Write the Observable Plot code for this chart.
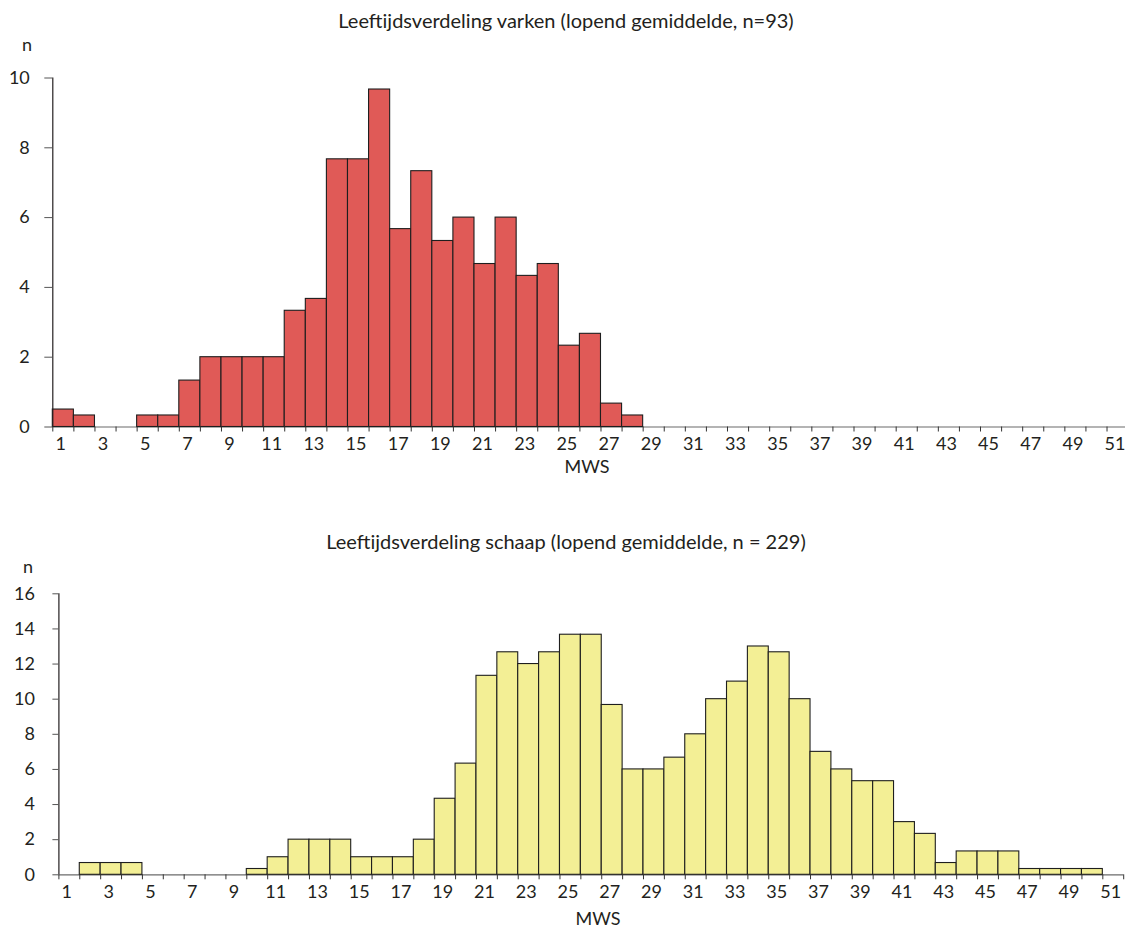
<!DOCTYPE html>
<html>
<head>
<meta charset="utf-8">
<script src="https://cdn.jsdelivr.net/npm/d3@7"></script>
<script src="https://cdn.jsdelivr.net/npm/@observablehq/plot@0.6"></script>
<style>
  html, body { margin: 0; padding: 0; background: #fff; }
  #page { position: relative; width: 1125px; height: 929px; overflow: hidden; font-family: Lato, "Open Sans", sans-serif; color: #231f20; }
  .lbl { position: absolute; transform: translate(-50%, -50%); white-space: nowrap; font-size: 18px; line-height: 1; }
  .title { font-size: 20px; }
  .chart { position: absolute; left: 0; }
</style>
</head>
<body>
<div id="page">
  <div class="lbl title" style="left:566px;top:20px">Leeftijdsverdeling varken (lopend gemiddelde, n=93)</div>
  <div class="lbl" style="left:27px;top:44px">n</div>
  <div class="chart" id="c1" style="top:0px"></div>
  <div class="lbl" style="left:587px;top:466px">MWS</div>

  <div class="lbl title" style="left:566px;top:541px">Leeftijdsverdeling schaap (lopend gemiddelde, n = 229)</div>
  <div class="lbl" style="left:28px;top:566px">n</div>
  <div class="chart" id="c2" style="top:500px"></div>
  <div class="lbl" style="left:598px;top:918px">MWS</div>
</div>
<script>
// MWS bins (x categories)
const mwsBins = [1,2,3,4,5,6,7,8,9,10,11,12,13,14,15,16,17,18,19,20,21,22,23,24,25,26,27,28,29,30,31,32,33,34,35,36,37,38,39,40,41,42,43,44,45,46,47,48,49,50,51];

// Pig (varken), running mean, n = 93
const varkenN = [0.5,0.33,0,0,0.33,0.33,1.33,2,2,2,2,3.33,3.67,7.67,7.67,9.67,5.67,7.33,5.33,6,4.67,6,4.33,4.67,2.33,2.67,0.67,0.33,0,0,0,0,0,0,0,0,0,0,0,0,0,0,0,0,0,0,0,0,0,0,0];

// Sheep (schaap), running mean, n = 229
const schaapN = [0,0.67,0.67,0.67,0,0,0,0,0,0.33,1,2,2,2,1,1,1,2,4.33,6.33,11.33,12.67,12,12.67,13.67,13.67,9.67,6,6,6.67,8,10,11,13,12.67,10,7,6,5.33,5.33,3,2.33,0.67,1.33,1.33,1.33,0.33,0.33,0.33,0.33,0];

// Tick labels
const xTickLabels = [1,3,5,7,9,11,13,15,17,19,21,23,25,27,29,31,33,35,37,39,41,43,45,47,49,51];
const yTicksVarken = [0,2,4,6,8,10];
const yTicksSchaap = [0,2,4,6,8,10,12,14,16];

function histogram({values, yTicks, fill, height, left, right, top, bottom, yTickSize, yTickPadding}) {
  const data = mwsBins.map((b, i) => ({bin: b, n: values[i]}));
  const xDomain = [mwsBins[0] - 0.5, mwsBins[mwsBins.length - 1] + 0.5];
  const yDomain = [yTicks[0], yTicks[yTicks.length - 1]];
  const boundaries = mwsBins.map(b => b - 0.5).concat([xDomain[1]]);
  return Plot.plot({
    width: 1125,
    height,
    marginLeft: left,
    marginRight: 0,
    marginTop: top,
    marginBottom: height - bottom,
    x: {domain: xDomain, range: [left, right]},
    y: {domain: yDomain, range: [bottom, top]},
    style: {fontFamily: "Lato, 'Open Sans', sans-serif", fontSize: "18px", color: "#231f20", background: "transparent", overflow: "visible"},
    marks: [
      Plot.ruleY([0], {x1: xDomain[0], x2: xDomain[1], stroke: "#6b6b6b", strokeWidth: 1.2}),
      Plot.rectY(data, {filter: d => d.n > 0, x1: d => d.bin - 0.5, x2: d => d.bin + 0.5, y1: 0, y2: "n", fill, stroke: "#1e1e1e", strokeWidth: 1.1}),
      Plot.ruleX([xDomain[0]], {y1: yDomain[0], y2: yDomain[1], stroke: "#231f20", strokeWidth: 1.2}),
      Plot.axisY({ticks: yTicks, tickSize: yTickSize, tickPadding: yTickPadding, label: null, stroke: "#555"}),
      Plot.axisX({ticks: boundaries, tickSize: 5, tickFormat: () => "", label: null, stroke: "#333"}),
      Plot.axisX({ticks: xTickLabels, tickSize: 0, tickPadding: 10, dx: -2.5, label: null})
    ]
  });
}

document.getElementById("c1").appendChild(histogram({
  values: varkenN, yTicks: yTicksVarken, fill: "#e05a57", height: 480,
  left: 52.3, right: 1127.6, top: 77.5, bottom: 426.5, yTickSize: 8, yTickPadding: 15
}));
document.getElementById("c2").appendChild(histogram({
  values: schaapN, yTicks: yTicksSchaap, fill: "#f3ef95", height: 429,
  left: 58.4, right: 1123.2, top: 93.3, bottom: 374.3, yTickSize: 6, yTickPadding: 18
}));
</script>
</body>
</html>
